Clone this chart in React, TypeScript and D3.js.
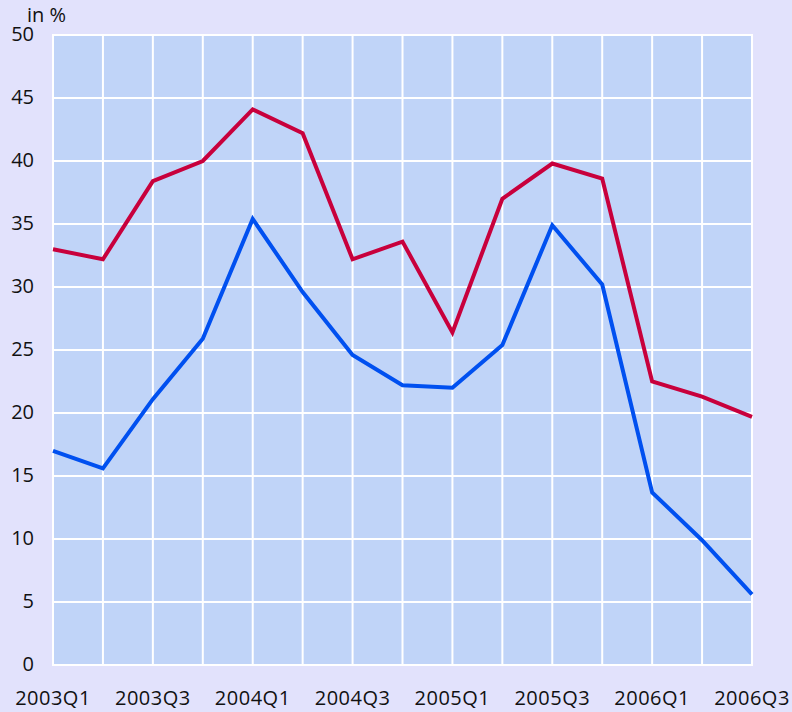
import * as d3 from "d3";
import { useEffect, useRef } from "react";

const quarters = [
  "2003Q1", "2003Q2", "2003Q3", "2003Q4",
  "2004Q1", "2004Q2", "2004Q3", "2004Q4",
  "2005Q1", "2005Q2", "2005Q3", "2005Q4",
  "2006Q1", "2006Q2", "2006Q3",
];

const redSeries = [33.0, 32.2, 38.4, 40.0, 44.1, 42.2, 32.2, 33.6, 26.4, 37.0, 39.8, 38.6, 22.5, 21.3, 19.7];
const blueSeries = [17.0, 15.6, 21.1, 25.9, 35.4, 29.6, 24.6, 22.2, 22.0, 25.4, 34.9, 30.2, 13.7, 9.9, 5.6];

const yTicks = [0, 5, 10, 15, 20, 25, 30, 35, 40, 45, 50];
const xLabels = ["2003Q1", "2003Q3", "2004Q1", "2004Q3", "2005Q1", "2005Q3", "2006Q1", "2006Q3"];

export default function App() {
  const ref = useRef<SVGSVGElement>(null);

  useEffect(() => {
    const svg = d3.select(ref.current);
    svg.selectAll("*").remove();

    const width = 792;
    const height = 712;
    const margin = { top: 35, right: 40, bottom: 47, left: 53 };

    svg.attr("width", width).attr("height", height);

    svg.append("rect")
      .attr("width", width)
      .attr("height", height)
      .attr("fill", "#e2e2fc");

    const x = d3.scalePoint()
      .domain(quarters)
      .range([margin.left, width - margin.right]);

    const y = d3.scaleLinear()
      .domain([0, 50])
      .range([height - margin.bottom, margin.top]);

    // plot background
    svg.append("rect")
      .attr("x", margin.left)
      .attr("y", margin.top)
      .attr("width", width - margin.right - margin.left)
      .attr("height", height - margin.bottom - margin.top)
      .attr("fill", "#c0d4f8")
      .attr("stroke", "white")
      .attr("stroke-width", 2);

    // grid
    svg.append("g")
      .selectAll("line")
      .data(quarters)
      .join("line")
      .attr("x1", d => x(d)!)
      .attr("x2", d => x(d)!)
      .attr("y1", y(0))
      .attr("y2", y(50))
      .attr("stroke", "white")
      .attr("stroke-width", 2);

    svg.append("g")
      .selectAll("line")
      .data(yTicks)
      .join("line")
      .attr("x1", margin.left)
      .attr("x2", width - margin.right)
      .attr("y1", d => y(d))
      .attr("y2", d => y(d))
      .attr("stroke", "white")
      .attr("stroke-width", 2);

    const font = "'Open Sans', sans-serif";

    // y labels
    svg.append("g")
      .selectAll("text")
      .data(yTicks)
      .join("text")
      .attr("x", 34)
      .attr("y", d => y(d))
      .attr("dy", "0.3em")
      .attr("text-anchor", "end")
      .style("font-family", font)
      .style("font-size", "20px")
      .style("font-weight", 500)
      .attr("fill", "#111")
      .text(d => d);

    svg.append("text")
      .attr("x", 27)
      .attr("y", 22)
      .style("font-family", font)
      .style("font-size", "20px")
      .style("font-weight", 500)
      .attr("fill", "#111")
      .text("in %");

    // x labels
    svg.append("g")
      .selectAll("text")
      .data(xLabels)
      .join("text")
      .attr("x", d => x(d)!)
      .attr("y", 705)
      .attr("text-anchor", "middle")
      .style("font-family", font)
      .style("font-size", "20px")
      .style("font-weight", 500)
      .style("letter-spacing", "0.5px")
      .attr("fill", "#111")
      .text(d => d);

    const line = d3.line<number>()
      .x((d, i) => x(quarters[i])!)
      .y(d => y(d));

    svg.append("path")
      .datum(redSeries)
      .attr("d", line)
      .attr("fill", "none")
      .attr("stroke", "#c8003c")
      .attr("stroke-width", 4)
      .attr("stroke-linejoin", "miter");

    svg.append("path")
      .datum(blueSeries)
      .attr("d", line)
      .attr("fill", "none")
      .attr("stroke", "#0050f0")
      .attr("stroke-width", 4)
      .attr("stroke-linejoin", "miter");
  }, []);

  return (
    <div style={{ position: "fixed", left: 0, top: 0 }}>
      <svg ref={ref} style={{ display: "block" }}></svg>
    </div>
  );
}
